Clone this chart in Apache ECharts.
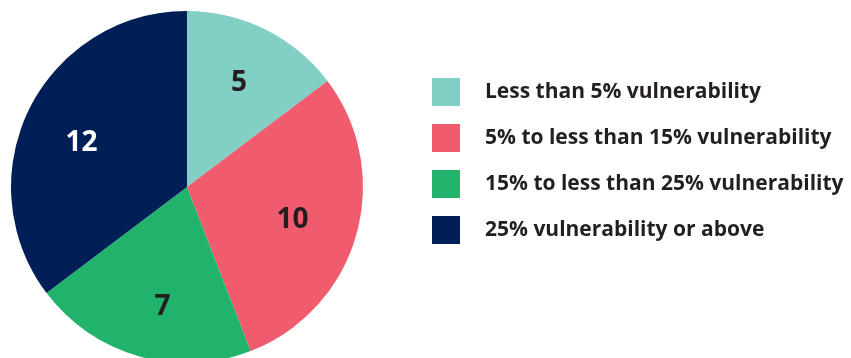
<!DOCTYPE html>
<html>
<head>
<meta charset="utf-8">
<script src="https://cdn.jsdelivr.net/npm/echarts@6/dist/echarts.min.js"></script>
<style>
  html, body { margin: 0; padding: 0; background: #ffffff; }
  #chart { width: 851px; height: 358px; }
</style>
</head>
<body>
<div id="chart"></div>
<script>
// Vulnerability bands and counts per band
const categories = [
  'Less than 5% vulnerability',
  '5% to less than 15% vulnerability',
  '15% to less than 25% vulnerability',
  '25% vulnerability or above'
];
const counts = [5, 10, 7, 12];
const colors = ['#82cfc6', '#f05b6d', '#21b26c', '#001f56'];
const labelColors = ['#231f20', '#231f20', '#231f20', '#ffffff'];

const FONT = '"Open Sans", "Noto Sans", sans-serif';

// Small per-label nudges (px) applied on top of the automatic inside placement
const labelNudge = [[-1, 3], [-9, 0], [8, 6], [1, 9]];

const sliceData = categories.map((name, i) => ({
  name,
  value: counts[i],
  itemStyle: { color: colors[i] }
}));

// Transparent ring used only to place the value labels further out from the centre
const labelData = categories.map((name, i) => ({
  name,
  value: counts[i],
  itemStyle: { color: 'rgba(0,0,0,0)' },
  label: { color: labelColors[i], offset: labelNudge[i] }
}));

const chart = echarts.init(document.getElementById('chart'), null, { renderer: 'canvas' });
chart.setOption({
  animation: false,
  color: colors,
  legend: {
    orient: 'vertical',
    left: 427,
    top: 73,
    itemWidth: 28,
    itemHeight: 28,
    itemGap: 18,
    icon: 'rect',
    selectedMode: false,
    data: categories,
    textStyle: {
      fontFamily: FONT,
      fontWeight: 'bold',
      fontSize: 21,
      color: '#231f20',
      padding: [0, 0, 0, 20]
    }
  },
  series: [
    {
      type: 'pie',
      center: [187, 187],
      radius: [0, 176],
      startAngle: 90,
      clockwise: true,
      silent: true,
      label: { show: false },
      labelLine: { show: false },
      data: sliceData
    },
    {
      type: 'pie',
      center: [187, 187],
      radius: [56, 176],
      startAngle: 90,
      clockwise: true,
      silent: true,
      legendHoverLink: false,
      label: {
        show: true,
        position: 'inside',
        formatter: '{c}',
        fontFamily: FONT,
        fontWeight: 'bold',
        fontSize: 28
      },
      labelLine: { show: false },
      data: labelData
    }
  ]
});
</script>
</body>
</html>
